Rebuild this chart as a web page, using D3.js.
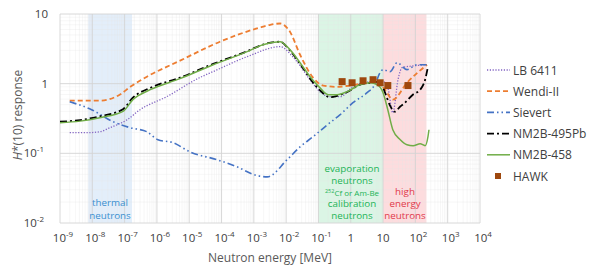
<!DOCTYPE html>
<html>
<head>
<meta charset="utf-8">
<script src="https://cdn.jsdelivr.net/npm/d3@7"></script>
<style>
  body { margin: 0; background: #fff; }
  text { font-family: "Open Sans", "Noto Sans", sans-serif; }
</style>
</head>
<body>
<div id="chart"></div>
<script>
// energies in MeV, responses as H*(10) response
const lbE = [2e-9, 6.9e-9, 1.7e-8, 3.5e-8, 1.2e-7, 3.0e-7, 2.0e-6, 2.1e-5, 5.5e-5, 6.2e-4, 6.5e-3, 1.6e-2, 5.5e-2, 0.11, 0.23, 0.47, 1.17, 4.9, 10, 14, 20, 29, 39, 98, 229];
const lbR = [0.198, 0.198, 0.204, 0.233, 0.304, 0.423, 0.65, 1.22, 1.49, 2.44, 3.40, 2.44, 1.14, 0.77, 0.65, 0.65, 0.905, 1.07, 1.07, 0.877, 0.383, 1.14, 1.70, 1.81, 1.87];

const wendiE = [2e-9, 1.7e-8, 7.2e-8, 1.5e-7, 4.9e-7, 5.2e-6, 8.9e-5, 1.55e-3, 3.2e-3, 6.5e-3, 1.3e-2, 2.7e-2, 6.8e-2, 0.14, 0.38, 0.95, 6.5, 11.5, 20, 55, 229];
const wendiR = [0.57, 0.57, 0.70, 0.90, 1.26, 2.14, 4.0, 6.4, 7.0, 7.3, 5.6, 2.6, 1.22, 0.94, 0.90, 0.94, 1.07, 0.82, 0.59, 1.03, 1.87];

const sievertE = [2e-9, 9.5e-9, 4.4e-8, 1.5e-7, 4.9e-7, 1.07e-6, 3.2e-6, 1.05e-5, 7.2e-5, 3.0e-4, 1.26e-3, 2.6e-3, 1.07e-2, 2.7e-2, 6.8e-2, 0.19, 0.47, 1.17, 3.2, 5.6, 8.1, 10, 16.6, 27, 55, 112, 229];
const sievertR = [0.55, 0.423, 0.284, 0.233, 0.204, 0.157, 0.142, 0.105, 0.081, 0.064, 0.048, 0.046, 0.081, 0.124, 0.173, 0.258, 0.359, 0.533, 0.743, 0.97, 1.44, 1.59, 1.49, 2.0, 1.59, 1.87, 1.87];

const pbE = [1e-9, 4.2e-9, 1.7e-8, 8.9e-8, 1.8e-7, 6.2e-7, 5.2e-6, 5.5e-5, 6.2e-4, 1.9e-3, 6.5e-3, 1.3e-2, 3.3e-2, 5.5e-2, 0.11, 0.23, 0.38, 0.78, 1.95, 4.0, 8.1, 11.5, 16.6, 23, 34, 45, 85, 141, 200, 245];
const pbR = [0.285, 0.30, 0.34, 0.43, 0.63, 0.87, 1.22, 1.92, 2.92, 3.63, 4.0, 3.0, 1.68, 1.18, 0.81, 0.64, 0.67, 0.76, 0.97, 1.03, 1.07, 0.743, 0.48, 0.396, 0.47, 0.52, 0.70, 0.82, 1.14, 1.75];

const nmE = [1e-9, 4.2e-9, 1.7e-8, 8.9e-8, 1.8e-7, 6.2e-7, 5.2e-6, 5.5e-5, 6.2e-4, 1.9e-3, 6.5e-3, 1.3e-2, 3.3e-2, 5.5e-2, 0.11, 0.2, 0.38, 0.78, 1.95, 4.0, 6.5, 10, 14, 20, 34, 55, 85, 141, 200, 245, 263];
const nmR = [0.275, 0.29, 0.325, 0.40, 0.59, 0.82, 1.18, 1.87, 2.88, 3.63, 4.0, 3.08, 1.75, 1.26, 0.877, 0.695, 0.695, 0.77, 0.97, 1.03, 0.97, 0.743, 0.423, 0.218, 0.157, 0.133, 0.129, 0.137, 0.129, 0.173, 0.218];

const hawkE = [0.54, 1.1, 2.4, 4.9, 8.1, 14, 59];
const hawkR = [1.07, 1.03, 1.10, 1.14, 1.03, 0.94, 0.94];

const bandNames = ["thermal", "evaporation", "high"];
const bandFrom = [7.5e-9, 0.1, 10];
const bandTo = [1.7e-7, 10, 220];

const xTickExp = [-9, -8, -7, -6, -5, -4, -3, -2, -1, 0, 1, 2, 3, 4];
const yTickExp = [-2, -1, 0, 1];

const W = 592, H = 272;
const svg = d3.select("#chart").append("svg")
    .attr("width", W)
    .attr("height", H);

const x = d3.scaleLog().domain([1e-9, 1e4]).range([60, 480]);
const y = d3.scaleLog().domain([0.01, 10]).range([223, 14]);

// bands
const bandFill = ["#e3eefa", "#dbf5e5", "#fddcde"];
svg.selectAll(".band")
    .data(bandNames)
    .enter().append("rect")
    .attr("x", (d, i) => x(bandFrom[i]))
    .attr("y", y(10))
    .attr("width", (d, i) => x(bandTo[i]) - x(bandFrom[i]))
    .attr("height", y(0.01) - y(10))
    .attr("fill", (d, i) => bandFill[i]);

// grid
const grid = svg.append("g");
xTickExp.slice(0, -1).forEach(function (e) {
    for (let k = 2; k < 10; k++) {
        let v = k * Math.pow(10, e);
        grid.append("line")
            .attr("x1", x(v)).attr("x2", x(v))
            .attr("y1", y(10)).attr("y2", y(0.01))
            .attr("stroke", "#e6e6e6").attr("stroke-opacity", 0.55).attr("stroke-width", 0.6);
    }
});
yTickExp.slice(0, -1).forEach(function (e) {
    for (let k = 2; k < 10; k++) {
        let v = k * Math.pow(10, e);
        grid.append("line")
            .attr("x1", x(1e-9)).attr("x2", x(1e4))
            .attr("y1", y(v)).attr("y2", y(v))
            .attr("stroke", "#e6e6e6").attr("stroke-opacity", 0.55).attr("stroke-width", 0.6);
    }
});
xTickExp.forEach(function (e) {
    grid.append("line")
        .attr("x1", x(Math.pow(10, e))).attr("x2", x(Math.pow(10, e)))
        .attr("y1", y(10)).attr("y2", y(0.01))
        .attr("stroke", "#d4d4d4").attr("stroke-width", 0.9);
});
yTickExp.forEach(function (e) {
    grid.append("line")
        .attr("x1", x(1e-9)).attr("x2", x(1e4))
        .attr("y1", y(Math.pow(10, e))).attr("y2", y(Math.pow(10, e)))
        .attr("stroke", "#d4d4d4").attr("stroke-width", 0.9);
});

// tick labels
function powLabel(sel, e) {
    if (e === 0) { sel.text("1"); return; }
    if (e === 1) { sel.text("10"); return; }
    sel.append("tspan").text("10");
    sel.append("tspan").attr("dy", -5).attr("font-size", "8px").text(String(e));
}
xTickExp.forEach(function (e) {
    let t = svg.append("text")
        .attr("x", x(Math.pow(10, e)) + (e === 0 || e === 1 ? 0 : 3))
        .attr("y", 242)
        .attr("text-anchor", "middle")
        .attr("font-size", "11.5px")
        .attr("fill", "#404040");
    powLabel(t, e);
});
yTickExp.forEach(function (e) {
    let t = svg.append("text")
        .attr("x", (e === 0 || e === 1) ? 48 : 44)
        .attr("y", y(Math.pow(10, e)) + 4)
        .attr("text-anchor", "end")
        .attr("font-size", "11.5px")
        .attr("fill", "#404040");
    powLabel(t, e);
});

// axis titles
svg.append("text")
    .attr("x", 270).attr("y", 262)
    .attr("text-anchor", "middle")
    .attr("font-size", "12px")
    .attr("fill", "#595959")
    .text("Neutron energy [MeV]");

let yt = svg.append("text")
    .attr("transform", "translate(22,115) rotate(-90)")
    .attr("text-anchor", "middle")
    .attr("font-size", "12px")
    .attr("fill", "#595959");
yt.append("tspan").attr("font-style", "italic").text("H");
yt.append("tspan").text("*(10) response");

// band labels
function bandText(lines, cx, ys, color, sizes) {
    lines.forEach(function (l, i) {
        let t = svg.append("text")
            .attr("x", cx).attr("y", ys[i])
            .attr("text-anchor", "middle")
            .attr("font-size", sizes[i])
            .attr("fill", color);
        if (l === "Cf") {
            t.append("tspan").attr("font-size", "5.5px").attr("dy", -3).text("252");
            t.append("tspan").attr("dy", 3).text("Cf or Am-Be");
        } else {
            t.text(l);
        }
    });
}
bandText(["thermal", "neutrons"], 110, [206, 219], "#3a8fd0", ["9.8px", "9.8px"]);
bandText(["evaporation", "neutrons", "Cf", "calibration", "neutrons"], 352, [172, 184, 196, 207, 219], "#22b356", ["9.8px", "9.8px", "8px", "9.8px", "9.8px"]);
bandText(["high", "energy", "neutrons"], 405, [195, 207, 219], "#e0384a", ["9.8px", "9.8px", "9.8px"]);

// series, drawn black under green
const series = [
    {name: "LB 6411", e: lbE, r: lbR, color: "#8062c2", dash: "1.2,1.6", width: 1.3},
    {name: "Wendi-II", e: wendiE, r: wendiR, color: "#ed7d31", dash: "5,3", width: 1.8},
    {name: "Sievert", e: sievertE, r: sievertR, color: "#4472c4", dash: "7,3,1.5,3,1.5,3", width: 1.6},
    {name: "NM2B-495Pb", e: pbE, r: pbR, color: "#000000", dash: "7,3,2,3", width: 1.8},
    {name: "NM2B-458", e: nmE, r: nmR, color: "#70ad47", dash: null, width: 1.5}
];

const line = d3.line()
    .x(d => x(d[0]))
    .y(d => y(d[1]))
    .curve(d3.curveMonotoneX);

series.forEach(function (s) {
    svg.append("path")
        .datum(d3.zip(s.e, s.r))
        .attr("fill", "none")
        .attr("stroke", s.color)
        .attr("stroke-width", s.width)
        .attr("stroke-dasharray", s.dash)
        .attr("d", line);
});

svg.selectAll(".hawk")
    .data(d3.zip(hawkE, hawkR))
    .enter().append("rect")
    .attr("class", "hawk")
    .attr("x", d => x(d[0]) - 3.5)
    .attr("y", d => y(d[1]) - 3.5)
    .attr("width", 7).attr("height", 7)
    .attr("fill", "#9e480e");

// legend
const legendOrder = ["LB 6411", "Wendi-II", "Sievert", "NM2B-495Pb", "NM2B-458", "HAWK"];
const legendY = d3.scalePoint().domain(legendOrder).range([70, 176]);
legendOrder.forEach(function (n) {
    let s = series.find(d => d.name === n);
    let ly = legendY(n);
    if (s) {
        svg.append("line")
            .attr("x1", 487).attr("x2", 510)
            .attr("y1", ly).attr("y2", ly)
            .attr("stroke", s.color)
            .attr("stroke-width", s.width)
            .attr("stroke-dasharray", s.dash);
    } else {
        svg.append("rect")
            .attr("x", 495).attr("y", ly - 3)
            .attr("width", 6).attr("height", 6)
            .attr("fill", "#9e480e");
    }
    svg.append("text")
        .attr("x", 513).attr("y", ly + 4.5)
        .attr("font-size", "12px")
        .attr("fill", "#404040")
        .text(n);
});
</script>
</body>
</html>
